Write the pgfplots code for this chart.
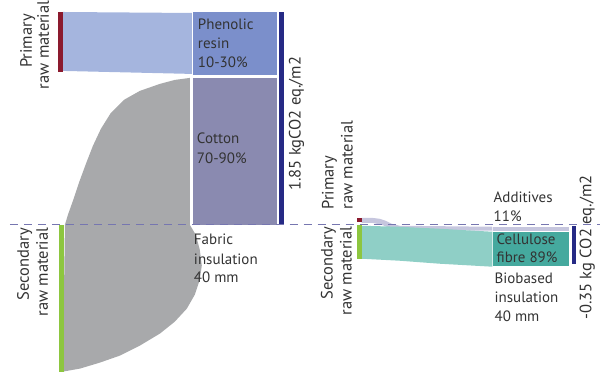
\documentclass[border=0pt]{standalone}
\usepackage{fontspec}
\setmainfont{PT Sans}
\usepackage{pgfplots}
\pgfplotsset{compat=1.18}
\definecolor{lblue}{HTML}{A5B5DE}
\definecolor{phen}{HTML}{7B8FCB}
\definecolor{cotton}{HTML}{8A8AB0}
\definecolor{greyflow}{HTML}{A8A9AB}
\definecolor{dblue}{HTML}{262A85}
\definecolor{dred}{HTML}{8B1A2E}
\definecolor{lgreen}{HTML}{8DC63F}
\definecolor{dashc}{HTML}{7676B0}
\definecolor{tealflow}{HTML}{8FCFC6}
\definecolor{tealbox}{HTML}{45A99E}
\definecolor{addflow}{HTML}{C6C6DE}
\definecolor{txt}{HTML}{333333}
\begin{document}
\begin{tikzpicture}[lbl/.style={anchor=base west, inner sep=0pt, text=txt, font=\fontsize{15}{18}\selectfont},
rl/.style={anchor=base, rotate=90, inner sep=0pt, text=txt, font=\fontsize{16.5}{18}\selectfont}]
\begin{axis}[scale only axis, width=601pt, height=374pt, xmin=0, xmax=601, ymin=0, ymax=374,
  y dir=reverse, hide axis, clip=false]
\path (rel axis cs:0,0) rectangle (rel axis cs:1,1);
% left chart
\addplot[fill=lblue, draw=none] coordinates {(63,12) (192,13) (192,74) (63,71)} -- cycle;
\addplot[fill=greyflow, draw=none] coordinates {
 (190,78) (175,80) (160,84) (140,91) (124,100) (111,113) (101,129) (93,146) (86,164) (79,183) (73,201) (68,215) (65,225)
 (63,372) (80,369) (100,363) (120,356) (140,346) (160,334) (175,322) (187,309) (195,295) (200,280) (202,266) (200,250) (196,235) (190,225)
} -- cycle;
\addplot[fill=phen, draw=none] coordinates {(193,12) (277,12) (277,75) (193,75)} -- cycle;
\addplot[fill=cotton, draw=none] coordinates {(193,78) (277,78) (277,225) (193,225)} -- cycle;
\addplot[fill=dblue, draw=none] coordinates {(279,12) (284,12) (284,225) (279,225)} -- cycle;
\addplot[fill=dred, draw=none] coordinates {(58,12) (63,12) (63,72) (58,72)} -- cycle;
\addplot[fill=lgreen, draw=none] coordinates {(59,225) (64,225) (64,372) (59,372)} -- cycle;
% right chart
\addplot[fill=addflow, draw=none] coordinates {(362,218) (372,218) (380,219) (386,221) (392,224) (400,226) (493,227) (493,231) (400,230) (390,228) (382,225) (372,223) (362,223)} -- cycle;
\addplot[fill=tealflow, draw=none] coordinates {(362,226) (400,227) (440,229) (493,232) (493,267) (440,264) (400,261) (362,259)} -- cycle;
\addplot[fill=addflow, draw=none] coordinates {(494,227) (570,227) (570,231) (494,231)} -- cycle;
\addplot[fill=tealbox, draw=none] coordinates {(494,232) (570,232) (570,266) (494,266)} -- cycle;
\addplot[fill=dblue, draw=none] coordinates {(573,226) (577,226) (577,264) (573,264)} -- cycle;
\addplot[fill=dred, draw=none] coordinates {(357,218) (362,218) (362,222) (357,222)} -- cycle;
\addplot[fill=lgreen, draw=none] coordinates {(357,225) (362,225) (362,259) (357,259)} -- cycle;
% dashed line
\addplot[dashc, line width=1.3pt, dash pattern=on 8pt off 6pt] coordinates {(10,225) (601,225)};
% labels
\node[lbl] at (198,30) {Phenolic};
\node[lbl] at (198,49) {resin};
\node[lbl] at (198,68) {10-30\%};
\node[lbl] at (197,144) {Cotton};
\node[lbl] at (197,164) {70-90\%};
\node[lbl] at (194,245) {Fabric};
\node[lbl] at (194,265) {insulation};
\node[lbl] at (194,283) {40 mm};
\node[lbl] at (494,203) {Additives};
\node[lbl] at (494,222) {11\%};
\node[lbl] at (497,245) {Cellulose};
\node[lbl] at (497,263) {fibre 89\%};
\node[lbl] at (495,284) {Biobased};
\node[lbl] at (495,303) {insulation};
\node[lbl] at (495,322) {40 mm};
\node[rl] at (32,41) {Primary};
\node[rl] at (49,45) {raw material};
\node[rl, anchor=base east] at (29,228) {Secondary};
\node[rl, anchor=base east] at (48,228) {raw material};
\node[rl, anchor=base west] at (334,210) {Primary};
\node[rl, anchor=base west] at (353,210) {raw material};
\node[rl, anchor=base east] at (333,227) {Secondary};
\node[rl, anchor=base east] at (352,227) {raw material};
\node[rl] at (301,124) {1.85 kgCO2 eq./m2};
\node[rl] at (592,248) {-0.35 kg CO2 eq./m2};
\end{axis}
\end{tikzpicture}
\end{document}
